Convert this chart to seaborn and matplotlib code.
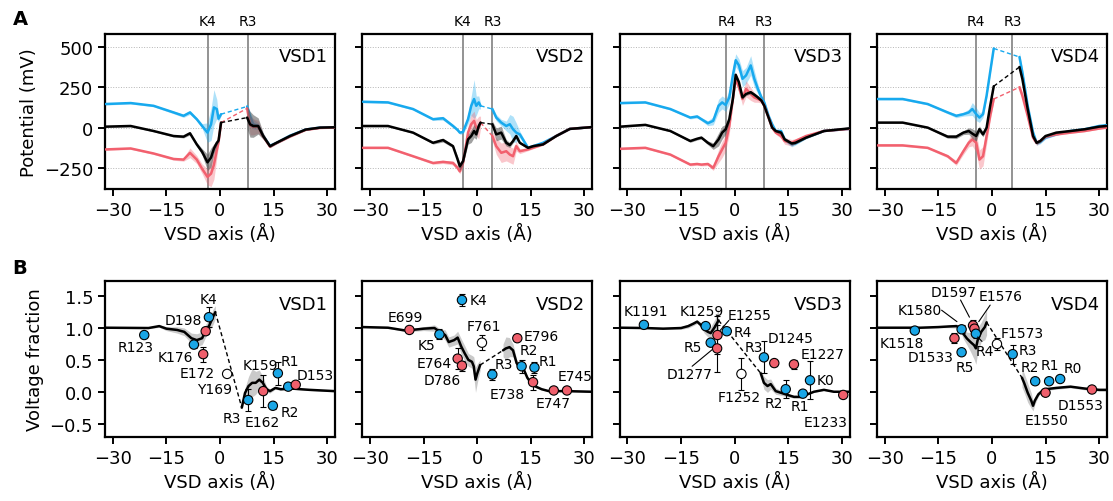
import numpy as np
import matplotlib
matplotlib.use("Agg")
import matplotlib.pyplot as plt
import seaborn as sns

# ─── Style ────────────────────────────────────────────────────────────────────
sns.set_style("ticks")
plt.rcParams["font.family"] = ["DejaVu Sans"]
plt.rcParams.update({
    "axes.linewidth": 1.6,
    "xtick.major.width": 1.4,
    "ytick.major.width": 1.4,
    "xtick.major.size": 5,
    "ytick.major.size": 5,
    "xtick.labelsize": 13,
    "ytick.labelsize": 13,
    "axes.labelsize": 13,
    "axes.edgecolor": "black",
    "axes.labelcolor": "black",
    "text.color": "black",
    "xtick.color": "black",
    "ytick.color": "black",
})

BLUE = "#17a9ee"
RED = "#f2606e"
PT_COLORS = {"b": "#1aa6e6", "r": "#ef5f6c", "w": "white"}

# ─── Panel A: potential profiles (mV) ─────────────────────────────────────────
a1_x = [-32, -25, -18.6, -13, -10.2, -8.4, -6.5, -5, -3.5, -2.5, -1.7, -0.9, -0.4, 0.3,
        7.6, 8.4, 9.3, 10.7, 12.1, 14, 15.8, 19.6, 24, 28, 32]
a1_blue = [146, 152, 135, 94, 73, 94, 52, 10, -31, 20, 125, 115, 55, 83,
           131, 70, 21, 10, -52, -112, -95, -50, -12, 0, 2]
a1_black = [6, 10, -21, -52, -56, -35, -104, -150, -215, -185, -130, -95, -80, 31,
            62, 21, 10, 10, -52, -115, -94, -52, -12, 0, 2]
a1_red = [-135, -129, -160, -194, -198, -156, -198, -255, -305, -285, -230, -140, -90, 31,
          119, 15, 5, 5, -55, -118, -96, -55, -14, -2, 0]
a1_blue_sd = [6, 6, 6, 8, 10, 12, 10, 15, 60, 100, 110, 60, 20, 10,
              20, 30, 30, 20, 10, 8, 6, 6, 4, 4, 4]
a1_black_sd = [5, 5, 5, 6, 8, 10, 12, 20, 50, 60, 30, 15, 10, 8,
               70, 80, 70, 50, 20, 8, 6, 6, 4, 4, 4]
a1_red_sd = [6, 6, 6, 8, 10, 30, 25, 30, 50, 80, 90, 50, 20, 10,
             20, 60, 50, 40, 15, 8, 6, 6, 4, 4, 4]

a2_x = [-32, -25, -18, -12.4, -9.6, -6.8, -5.5, -4.9, -4, -2.6, -1.7, -0.9, -0.3, 0.4, 0.9,
        4.2, 5.3, 6.7, 8.1, 9.1, 10, 10.9, 11.9, 14.2, 15.6, 18.4, 22.1, 25.9, 32]
a2_blue = [160, 156, 115, 52, 58, 10, -15, -31, -27, 52, 135, 177, 135, 156, 135,
           115, 62, 31, 10, 21, -10, -31, -42, -125, -115, -94, -52, -8, 3]
a2_black = [10, 10, -31, -94, -77, -115, -198, -240, -208, -73, -52, -21, -42, 10, 31,
            21, -42, -31, -94, -108, -83, -52, -94, -125, -115, -104, -52, -8, 3]
a2_red = [-125, -125, -177, -219, -212, -219, -250, -271, -219, -31, 21, 42, 0, 0, 31,
          -52, -115, -156, -146, -167, -177, -115, -146, -135, -125, -104, -52, -8, 3]
a2_blue_sd = [6, 6, 6, 8, 12, 10, 10, 10, 12, 30, 60, 120, 60, 40, 20,
              15, 20, 20, 30, 60, 80, 60, 20, 8, 6, 6, 4, 4, 4]
a2_black_sd = [5, 5, 5, 8, 12, 10, 20, 25, 20, 30, 40, 40, 30, 20, 10,
               20, 40, 40, 20, 15, 12, 10, 8, 6, 6, 4, 4, 4, 4]
a2_red_sd = [6, 6, 6, 8, 10, 12, 15, 15, 20, 40, 60, 60, 50, 70, 40,
             30, 50, 60, 60, 50, 50, 30, 15, 8, 6, 6, 4, 4, 4]

a3_x = [-32, -25, -18, -12.4, -10.5, -9.3, -7.5, -6, -4.5, -3.5, -2.5, -1.5, -0.5, 0.3, 1.2,
        2.2, 3.2, 4.5, 5.5, 6.5, 7.5, 8.3, 9.5, 10.5, 11.5, 13, 14, 16, 17, 20, 25, 32]
a3_blue = [152, 156, 115, 62, 69, 52, 27, 42, 135, 156, 140, 187, 323, 417, 385,
           302, 323, 385, 302, 240, 187, 156, 73, 21, -21, -21, -73, -104, -98, -62, -21, -8]
a3_black = [6, 17, -21, -83, -69, -62, -94, -115, -73, -31, -10, 52, 177, 327, 281,
            187, 208, 219, 204, 187, 167, 135, 62, 0, -21, -31, -73, -98, -94, -62, -21, -5]
a3_red = [-131, -125, -167, -229, -225, -229, -225, -250, -177, -135, -94, 10, 177, 302, 250,
          177, 240, 208, 187, 177, 167, 135, 62, 0, -31, -52, -83, -94, -83, -52, -21, -8]
a3_blue_sd = [6, 6, 6, 8, 10, 10, 15, 25, 40, 40, 40, 40, 50, 40, 40,
              50, 50, 60, 50, 30, 15, 10, 10, 8, 8, 10, 15, 15, 10, 6, 4, 4]
a3_black_sd = [5, 5, 5, 8, 8, 8, 12, 20, 40, 40, 30, 20, 15, 10, 10,
               10, 10, 10, 10, 10, 8, 8, 8, 8, 8, 8, 10, 10, 8, 6, 4, 4]
a3_red_sd = [6, 6, 6, 8, 8, 8, 10, 15, 40, 50, 50, 50, 30, 20, 30,
             40, 50, 40, 30, 20, 15, 10, 10, 10, 10, 15, 20, 20, 15, 8, 4, 4]

a4_x = [-32, -25, -18, -12.4, -10, -8, -6.5, -5.5, -4.4, -3.5, -2.5, -1.5, -0.5, 0.5,
        7.7, 8.5, 10, 11.5, 12.5, 13.5, 15, 18, 22, 26, 30, 32]
a4_blue = [177, 177, 146, 94, 73, 83, 94, 115, 83, 62, 83, 198, 344, 490,
           437, 344, 135, -31, -94, -90, -62, -42, -21, -10, 10, 15]
a4_black = [31, 31, 0, -56, -56, -31, -21, -37, -52, -10, -42, 0, 135, 256,
            375, 302, 115, -52, -94, -83, -52, -31, -21, -10, 6, 10]
a4_red = [-110, -110, -125, -177, -219, -146, -94, -73, -94, -198, -177, -52, 73, 177,
          250, 198, 73, -62, -94, -83, -56, -42, -31, -21, -6, 0]
a4_blue_sd = [6, 6, 6, 8, 12, 12, 20, 40, 40, 30, 20, 15, 15, 10,
              30, 20, 15, 20, 15, 10, 8, 6, 4, 4, 4, 4]
a4_black_sd = [5, 5, 5, 10, 12, 12, 20, 30, 30, 20, 15, 10, 10, 8,
               15, 15, 10, 12, 10, 8, 6, 5, 4, 4, 4, 4]
a4_red_sd = [6, 6, 6, 10, 15, 20, 25, 40, 60, 60, 60, 50, 30, 15,
             20, 20, 15, 20, 15, 10, 8, 6, 4, 4, 4, 4]

# ─── Panel B: voltage fraction profiles ───────────────────────────────────────
b1_x = [-32, -20, -17, -15, -12, -10, -8, -6.5, -5, -4, -3, -2, -1.3,
        6.1, 7, 8, 9, 10, 11, 12, 13, 14, 15.5, 17, 20, 25, 32]
b1_y = [1.005, 1.0, 1.03, 0.99, 0.97, 0.94, 0.84, 0.81, 0.84, 0.96, 1.04, 1.17, 1.25,
        -0.25, -0.02, 0.09, 0.14, 0.14, 0.19, 0.14, 0.04, 0.01, 0.06, 0.04, 0.05, 0.03, 0.01]
b1_sd = [0.01, 0.01, 0.02, 0.03, 0.05, 0.06, 0.08, 0.1, 0.1, 0.1, 0.08, 0.12, 0.1,
         0.03, 0.08, 0.15, 0.22, 0.18, 0.15, 0.1, 0.05, 0.03, 0.02, 0.02, 0.01, 0.01, 0.01]

b2_x = [-32, -25, -20, -15, -12, -10.5, -9, -8, -6.5, -5.5, -4.5, -3.5, -2.5, -1.5, -1, -0.5, 0, 0.8,
        7.2, 8, 9, 10, 11, 12, 13, 14, 15, 16, 18, 20, 25, 32]
b2_y = [1.015, 1.005, 0.96, 0.99, 1.0, 0.94, 0.89, 0.78, 0.81, 0.85, 0.71, 0.60, 0.50, 0.47, 0.40, 0.19, 0.29, 0.42,
        0.65, 0.68, 0.70, 0.65, 0.45, 0.37, 0.35, 0.22, 0.14, 0.09, 0.04, 0.01, 0.01, 0.0]
b2_sd = [0.01, 0.01, 0.02, 0.03, 0.05, 0.05, 0.08, 0.08, 0.08, 0.1, 0.12, 0.12, 0.1, 0.1, 0.15, 0.2, 0.15, 0.08,
         0.1, 0.18, 0.15, 0.1, 0.06, 0.04, 0.03, 0.03, 0.02, 0.02, 0.01, 0.01, 0.01, 0.01]

b3_x = [-32, -25, -20, -15, -13, -11.5, -10.5, -9.5, -8.5, -7.5, -6.7, -5.5, -4.5,
        7.3, 8.2, 9.2, 10.1, 11.5, 12.9, 14.8, 16.6, 18.5, 20.4, 22.2, 25, 27.8, 32]
b3_y = [1.005, 1.0, 0.99, 1.0, 1.03, 1.07, 1.10, 1.05, 0.98, 0.94, 0.92, 1.02, 1.12,
        0.29, 0.14, 0.09, 0.12, 0.01, -0.015, -0.05, -0.08, -0.08, -0.04, 0.0, 0.03, 0.0, 0.0]
b3_sd = [0.01, 0.01, 0.01, 0.02, 0.03, 0.03, 0.03, 0.04, 0.06, 0.08, 0.1, 0.12, 0.2,
         0.05, 0.1, 0.1, 0.08, 0.05, 0.04, 0.03, 0.02, 0.02, 0.01, 0.01, 0.01, 0.01, 0.01]

b4_x = [-32, -20, -15, -12, -10, -9, -8, -7, -6, -5, -4.5, -4, -3, -2, -1.5,
        8.4, 9, 10, 11, 11.5, 12, 13, 14, 15, 18, 22, 26, 30, 32]
b4_y = [1.005, 1.005, 1.015, 1.025, 1.03, 1.01, 0.91, 0.835, 0.78, 0.73, 0.68, 0.81, 0.94, 1.015, 1.09,
        0.22, 0.14, -0.015, -0.14, -0.22, -0.14, -0.04, 0.01, 0.04, 0.06, 0.08, 0.05, 0.03, 0.03]
b4_sd = [0.01, 0.01, 0.01, 0.02, 0.03, 0.04, 0.08, 0.1, 0.15, 0.22, 0.25, 0.2, 0.15, 0.2, 0.2,
         0.15, 0.15, 0.15, 0.12, 0.08, 0.06, 0.03, 0.02, 0.02, 0.02, 0.02, 0.02, 0.02, 0.02]

# ─── Panel B: residue points ──────────────────────────────────────────────────
p1_names = ["R123", "K176", "D198", "K4", "E172", "Y169", "R3", "E162", "K159", "R1", "R2", "D153"]
p1_x = [-21.2, -7.3, -4.0, -3.1, -4.7, 2.0, 7.9, 12.1, 16.2, 19.1, 14.8, 21.2]
p1_y = [0.89, 0.74, 0.95, 1.17, 0.59, 0.28, -0.13, 0.01, 0.29, 0.08, -0.22, 0.11]
p1_err = [0, 0.05, 0.05, 0.16, 0.12, 0, 0.17, 0.25, 0.18, 0.04, 0.05, 0]
p1_kind = ["b", "b", "r", "b", "r", "w", "b", "r", "b", "b", "b", "r"]

p2_names = ["E699", "K5", "K4", "E764", "D786", "F761", "R3", "E796", "R2", "R1", "E738", "E747", "E745"]
p2_x = [-19.0, -10.6, -4.3, -5.5, -4.3, 1.3, 4.2, 11.2, 12.4, 16.0, 15.6, 21.4, 25.1]
p2_y = [0.97, 0.90, 1.44, 0.52, 0.41, 0.77, 0.27, 0.84, 0.40, 0.38, 0.15, 0.02, 0.02]
p2_err = [0, 0.08, 0.1, 0.17, 0.08, 0.12, 0.08, 0, 0.1, 0.08, 0.12, 0.03, 0]
p2_kind = ["r", "b", "b", "r", "r", "w", "b", "r", "b", "b", "r", "r", "r"]

p3_names = ["K1191", "K1259", "E1255", "R4", "R5", "D1277", "F1252", "R3", "D1245", "E1227",
            "R2", "R1", "K0", "E1233"]
p3_x = [-25.4, -8.1, -4.8, -2.2, -6.7, -4.9, 1.9, 8.2, 11.1, 16.6, 14.3, 19.1, 21.1, 30.4]
p3_y = [1.05, 1.03, 0.89, 0.95, 0.77, 0.68, 0.28, 0.54, 0.45, 0.43, 0.04, -0.03, 0.18, -0.05]
p3_err = [0, 0, 0.3, 0.05, 0.04, 0.37, 0.25, 0.25, 0.05, 0.07, 0.14, 0, 0.3, 0]
p3_kind = ["b", "b", "r", "b", "b", "r", "w", "b", "r", "r", "b", "b", "b", "r"]

p4_names = ["K1518", "K1580", "D1533", "R5", "D1597", "E1576", "R4", "F1573", "R3",
            "R2", "R1", "R0", "E1550", "D1553"]
p4_x = [-21.6, -8.5, -10.5, -8.5, -5.3, -4.9, -4.5, 1.4, 5.8, 12.1, 16.0, 19.1, 15.0, 28.0]
p4_y = [0.96, 0.98, 0.84, 0.62, 1.04, 0.99, 0.91, 0.75, 0.59, 0.165, 0.165, 0.20, -0.015, 0.035]
p4_err = [0, 0.06, 0.08, 0, 0.08, 0.05, 0.06, 0.1, 0.15, 0, 0, 0, 0, 0]
p4_kind = ["b", "b", "r", "b", "r", "r", "b", "w", "b", "b", "b", "b", "r", "r"]

# label placement (data coords) and leader lines
lab1 = [(-23.5, 0.70), (-12.6, 0.54), (-10.3, 1.13), (-3.1, 1.45), (-6.5, 0.30), (-1.5, 0.04),
        (3.3, -0.41), (11.7, -0.47), (11.2, 0.42), (19.6, 0.48), (19.6, -0.32), (26.6, 0.27)]
lab2 = [(-20.1, 1.17), (-14.3, 0.74), (0.2, 1.44), (-12.0, 0.45), (-9.8, 0.19), (1.8, 1.03),
        (7.4, 0.43), (17.9, 0.87), (14.5, 0.65), (19.8, 0.49), (8.4, -0.03), (21.1, -0.18),
        (27.3, 0.24)]
lab3 = [(-24.9, 1.27), (-9.1, 1.27), (4.3, 1.21), (2.4, 0.94), (-11.6, 0.70), (-12.5, 0.28),
        (1.2, -0.08), (5.4, 0.70), (15.7, 0.84), (24.6, 0.59), (11.0, -0.18), (18.3, -0.23),
        (25.5, 0.18), (25.5, -0.47)]
lab4 = [(-25.2, 0.76), (-20.1, 1.29), (-17.1, 0.55), (-7.7, 0.39), (-10.7, 1.56), (2.3, 1.51),
        (-2.0, 0.64), (8.4, 0.92), (10.0, 0.66), (10.6, 0.39), (16.3, 0.42), (22.6, 0.37),
        (15.4, -0.44), (24.9, -0.21)]
leaders = {
    2: [((-1.6, 1.12), (-4.1, 0.96)), ((-11.9, 0.40), (-6.3, 0.66))],
    3: [((-14.1, 1.28), (-9.8, 1.10)), ((-8.8, 1.44), (-6.3, 1.17)),
        ((-0.5, 1.36), (-3.7, 1.10)), ((-2.8, 0.79), (-4.0, 0.86))],
}

titles = ["VSD1", "VSD2", "VSD3", "VSD4"]
gate_names = [("K4", "R3"), ("K4", "R3"), ("R4", "R3"), ("R4", "R3")]
gate_x = [(-3.4, 7.8), (-4.1, 4.2), (-2.3, 8.3), (-4.4, 5.7)]
a_gaps = [(0.3, 7.6), (0.9, 4.2), None, (0.5, 7.7)]
b_gaps = [(-1.3, 6.1), (0.8, 7.2), (-4.5, 7.3), (-1.5, 8.4)]

A_DATA = [
    (a1_x, [(a1_blue, a1_blue_sd, BLUE), (a1_red, a1_red_sd, RED), (a1_black, a1_black_sd, "black")]),
    (a2_x, [(a2_blue, a2_blue_sd, BLUE), (a2_red, a2_red_sd, RED), (a2_black, a2_black_sd, "black")]),
    (a3_x, [(a3_blue, a3_blue_sd, BLUE), (a3_red, a3_red_sd, RED), (a3_black, a3_black_sd, "black")]),
    (a4_x, [(a4_blue, a4_blue_sd, BLUE), (a4_red, a4_red_sd, RED), (a4_black, a4_black_sd, "black")]),
]
B_DATA = [(b1_x, b1_y, b1_sd), (b2_x, b2_y, b2_sd), (b3_x, b3_y, b3_sd), (b4_x, b4_y, b4_sd)]
P_DATA = [
    (p1_names, p1_x, p1_y, p1_err, p1_kind, lab1),
    (p2_names, p2_x, p2_y, p2_err, p2_kind, lab2),
    (p3_names, p3_x, p3_y, p3_err, p3_kind, lab3),
    (p4_names, p4_x, p4_y, p4_err, p4_kind, lab4),
]


def draw_profile(ax, x, y, sd, gap, color, band_color, band_alpha, lw, z):
    x, y, sd = np.asarray(x, float), np.asarray(y, float), np.asarray(sd, float)
    parts = [np.ones(len(x), bool)] if gap is None else [x <= gap[0], x >= gap[1]]
    for m in parts:
        ax.fill_between(x[m], y[m] - sd[m], y[m] + sd[m], color=band_color,
                        alpha=band_alpha, lw=0, zorder=z - 1)
        sns.lineplot(x=x[m], y=y[m], ax=ax, color=color, lw=lw, estimator=None,
                     sort=False, zorder=z)
    if gap is not None:
        i0 = np.where(x <= gap[0])[0][-1]
        i1 = np.where(x >= gap[1])[0][0]
        ax.plot([x[i0], x[i1]], [y[i0], y[i1]], color=color, lw=1.0,
                ls=(0, (3, 2)), zorder=z)


# ─── Figure ───────────────────────────────────────────────────────────────────
fig = plt.figure(figsize=(11.13, 5.02), dpi=100)
left0, step, width = 0.0943, 0.2312, 0.2067

for i in range(4):
    # ── A ──
    ax = fig.add_axes([left0 + i * step, 0.6215, width, 0.309])
    for yv in (-250, 0, 250, 500):
        ax.axhline(yv, color="#b5b5b5", lw=0.7, ls=":", zorder=0)
    for gx in gate_x[i]:
        ax.axvline(gx, color="#8a8a8a", lw=1.3, zorder=1)
    for gx, gn in zip(gate_x[i], gate_names[i]):
        ax.text(gx, 1.085, gn, transform=ax.get_xaxis_transform(), ha="center",
                va="center", fontsize=10)
    xs, curves = A_DATA[i]
    for k, (vals, sd, col) in enumerate(curves):
        band = "#555555" if col == "black" else col
        alpha = 0.55 if col == "black" else 0.35
        draw_profile(ax, xs, vals, sd, a_gaps[i], col, band, alpha, 1.8, 3 + k)
    ax.set_xlim(-32.2, 32.2)
    ax.set_ylim(-380, 580)
    ax.set_xticks([-30, -15, 0, 15, 30])
    ax.set_yticks([-250, 0, 250, 500])
    ax.set_xlabel("VSD axis (Å)")
    if i == 0:
        ax.set_ylabel("Potential (mV)")
    else:
        ax.set_yticklabels([])
        ax.set_ylabel("")
    ax.text(0.97, 0.855, titles[i], transform=ax.transAxes, ha="right", va="center", fontsize=13)

    # ── B ──
    bx = fig.add_axes([left0 + i * step, 0.1275, width, 0.311])
    xs, ys, sd = B_DATA[i]
    draw_profile(bx, xs, ys, sd, b_gaps[i], "black", "#bdbdbd", 0.8, 1.8, 3)
    names, px, py, perr, pkind, labs = P_DATA[i]
    px, py, perr = np.asarray(px), np.asarray(py), np.asarray(perr)
    has = perr > 0
    bx.errorbar(px[has], py[has], yerr=perr[has], fmt="none", ecolor="black",
                elinewidth=0.8, capsize=2, capthick=0.8, zorder=5)
    sns.scatterplot(x=px, y=py, hue=pkind, palette=PT_COLORS, ax=bx, s=45,
                    edgecolor="black", linewidth=0.8, legend=False, zorder=6)
    for name, (lx, ly) in zip(names, labs):
        bx.text(lx, ly, name, ha="center", va="center", fontsize=10, zorder=7)
    for (x0, y0), (x1, y1) in leaders.get(i, []):
        bx.plot([x0, x1], [y0, y1], color="black", lw=0.8, zorder=7)
    bx.set_xlim(-32.2, 32.2)
    bx.set_ylim(-0.71, 1.74)
    bx.set_xticks([-30, -15, 0, 15, 30])
    bx.set_yticks([-0.5, 0.0, 0.5, 1.0, 1.5])
    bx.set_xlabel("VSD axis (Å)")
    if i == 0:
        bx.set_ylabel("Voltage fraction")
    else:
        bx.set_yticklabels([])
        bx.set_ylabel("")
    bx.text(0.97, 0.85, titles[i], transform=bx.transAxes, ha="right", va="center", fontsize=13)

fig.text(0.018, 0.962, "A", fontsize=14, fontweight="bold", ha="center", va="center")
fig.text(0.018, 0.465, "B", fontsize=14, fontweight="bold", ha="center", va="center")

fig.savefig("out.png", dpi=100)
